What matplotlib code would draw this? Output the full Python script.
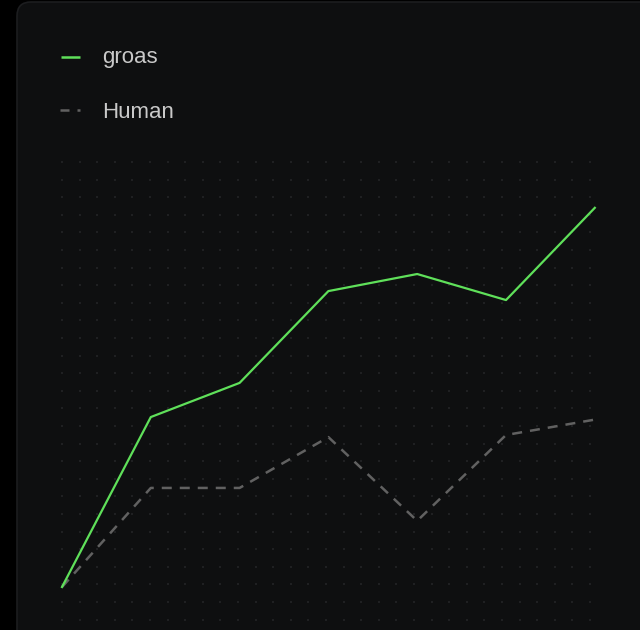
import numpy as np
import matplotlib.pyplot as plt
from matplotlib.patches import FancyBboxPatch

# Chart data
steps = [0, 1, 2, 3, 4, 5, 6]
groas = [0, 39.8, 47.8, 69.3, 73.3, 67.2, 88.8]
human = [0, 23.2, 23.2, 35.1, 15.5, 35.6, 39.2]
series_names = ['groas', 'Human']

green = '#5fe05a'
grey = '#616161'

W, H = 640, 630
fig = plt.figure(figsize=(W / 100, H / 100), dpi=100)
fig.patch.set_facecolor('black')

# background card
bg = fig.add_axes([0, 0, 1, 1])
bg.set_xlim(0, W)
bg.set_ylim(0, H)
bg.axis('off')
card = FancyBboxPatch((17, -40), 700, H - 2 + 40,
                      boxstyle='round,pad=0,rounding_size=14',
                      facecolor='#0e0f10', edgecolor='#1c1d1f', linewidth=1.2)
bg.add_patch(card)

# faint dot grid
gx = 62 + 17.6 * np.arange(31)
gy = (H - 162) - 17.6 * np.arange(27)
xx, yy = np.meshgrid(gx, gy)
bg.scatter(xx.ravel(), yy.ravel(), s=1.6, color='#1f2022', marker='s',
           linewidths=0)

# legend
bg.plot([61, 80], [H - 57, H - 57], color=green, lw=1.8, solid_capstyle='butt')
bg.text(102, H - 63, series_names[0], color='#c9c9c9', fontsize=16,
        family='Liberation Sans', va='baseline')
bg.plot([60, 69], [H - 110, H - 110], color=grey, lw=1.8, solid_capstyle='butt')
bg.plot([77, 79.5], [H - 110, H - 110], color=grey, lw=1.8, solid_capstyle='butt')
bg.text(102, H - 118, series_names[1], color='#c9c9c9', fontsize=16,
        family='Liberation Sans', va='baseline')

# plot area, mapped so step 0 sits at x=62px and value 0 at y=587px
x0, dx = 62, 88.8
y0, dy = H - 587, 4.27
ax = fig.add_axes([0, 0, 1, 1])
ax.set_xlim(-x0 / dx, (W - x0) / dx)
ax.set_ylim(-y0 / dy, (H - y0) / dy)
ax.axis('off')
ax.patch.set_alpha(0)

ax.plot(steps, human, color=grey, lw=1.8, dashes=(4, 3.2))
ax.plot(steps, groas, color=green, lw=1.6)

fig.savefig('out.png', dpi=100, facecolor=fig.get_facecolor())
